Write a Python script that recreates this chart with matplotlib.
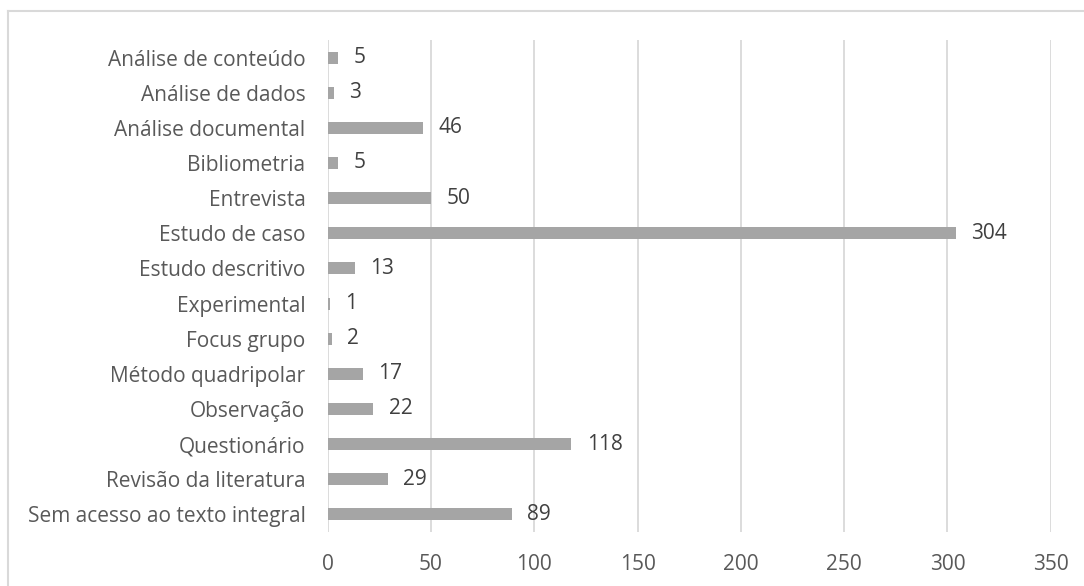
import matplotlib.pyplot as plt
from matplotlib.lines import Line2D

categories = [
    'Análise de conteúdo', 'Análise de dados', 'Análise documental',
    'Bibliometria', 'Entrevista', 'Estudo de caso', 'Estudo descritivo',
    'Experimental', 'Focus grupo', 'Método quadripolar', 'Observação',
    'Questionário', 'Revisão da literatura', 'Sem acesso ao texto integral',
]
values = [5, 3, 46, 5, 50, 304, 13, 1, 2, 17, 22, 118, 29, 89]
xticks = [0, 50, 100, 150, 200, 250, 300, 350]

plt.rcParams['font.family'] = ['Open Sans', 'DejaVu Sans']
text_color = '#595959'
fs = 15

fig = plt.figure(figsize=(10.84, 5.86), dpi=100)
ax = fig.add_axes([327.7 / 1084, 1 - 532 / 586, (1050.7 - 327.7) / 1084, (532 - 40) / 586])

pos = list(range(len(categories)))
ax.barh(pos, values, height=0.34, color='#a5a5a5', zorder=3)
for p, v in zip(pos, values):
    ax.text(v + 7.5, p, str(v), va='center', ha='left', fontsize=fs, color='#404040')

ax.set_xlim(0, 350)
ax.set_ylim(len(categories) - 0.5, -0.5)
ax.set_yticks(pos)
ax.set_yticklabels(categories, fontsize=fs, color=text_color)
ax.set_xticks(xticks)
ax.set_xticklabels([str(t) for t in xticks], fontsize=fs, color=text_color)
ax.tick_params(axis='y', length=0, pad=16)
ax.tick_params(axis='x', length=0, pad=16)
ax.grid(axis='x', color='#d9d9d9', linewidth=1.3, zorder=0)
for s in ax.spines.values():
    s.set_visible(False)

# chart frame (top and left edges visible in the crop)
fig.add_artist(Line2D([8 / 1084, 1.0], [1 - 11 / 586, 1 - 11 / 586], color='#d9d9d9', lw=1.5))
fig.add_artist(Line2D([8 / 1084, 8 / 1084], [0, 1 - 11 / 586], color='#d9d9d9', lw=1.5))

fig.savefig('out.png', dpi=100)
